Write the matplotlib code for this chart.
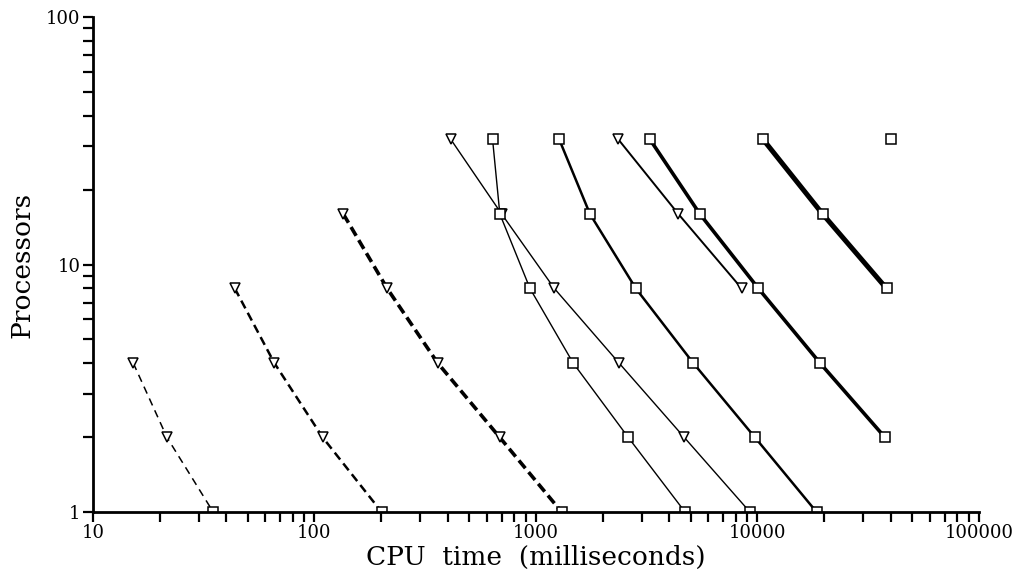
import matplotlib
matplotlib.use("Agg")
import matplotlib.pyplot as plt
from matplotlib.ticker import LogLocator, NullFormatter, FixedFormatter, FixedLocator

# ---- data (CPU time in ms, processors) ----
procs_4 = [4, 2, 1]
procs_8 = [8, 4, 2, 1]
procs_16 = [16, 8, 4, 2, 1]
procs_32 = [32, 16, 8, 4, 2, 1]
procs_32_8 = [32, 16, 8]
procs_32_2 = [32, 16, 8, 4, 2]

t_dash_thin = [15.2, 21.6, 34.9]
t_dash_med = [43.7, 65.9, 109, 201]
t_dash_thick = [135, 213, 360, 687, 1306]
t_tri_thin = [413, 700, 1211, 2371, 4676, 9245]
t_sq_thin = [637, 687, 940, 1472, 2612, 4710]
t_sq_med = [1274, 1753, 2825, 5128, 9750, 18480]
t_tri_med = [2356, 4393, 8490]
t_sq_thick = [3272, 5495, 10100, 19150, 37670]
t_sq_thickest = [10610, 19680, 38260]
t_single = [40090]
procs_single = [32]

xticks = [10, 100, 1000, 10000, 100000]
xticklabels = ["10", "100", "1000", "10000", "100000"]
yticks = [1, 10, 100]
yticklabels = ["1", "10", "100"]

plt.rcParams['font.family'] = ['DejaVu Serif']

fig = plt.figure(figsize=(10.17, 5.85), dpi=100)
ax = fig.add_axes([0.0914, 0.1248, 0.8712, 0.8461])
ax.set_xscale('log')
ax.set_yscale('log')
ax.set_xlim(10, 100000)
ax.set_ylim(1, 100)

ms = 7
mew = 1.1
k = 'black'

def series(t, p, lw, ls, marker):
    # line
    ax.plot(t, p, color=k, lw=lw, linestyle=ls, zorder=2)
    # markers (processor 1 drawn as squares, half hidden by the axis)
    tm = [a for a, b in zip(t, p) if b != 1]
    pm = [b for b in p if b != 1]
    ax.plot(tm, pm, linestyle='none', marker=marker, ms=ms, mfc='white',
            mec=k, mew=mew, zorder=3)
    t1 = [a for a, b in zip(t, p) if b == 1]
    p1 = [b for b in p if b == 1]
    if t1:
        ax.plot(t1, p1, linestyle='none', marker='s', ms=ms, mfc='white',
                mec=k, mew=mew, zorder=3, clip_on=True)

series(t_dash_thin, procs_4, 1.1, (0, (5, 3.5)), 'v')
series(t_dash_med, procs_8, 1.8, (0, (3.5, 2)), 'v')
series(t_dash_thick, procs_16, 2.6, (0, (2.8, 1.4)), 'v')
series(t_tri_thin, procs_32, 1.0, '-', 'v')
series(t_sq_thin, procs_32, 1.0, '-', 's')
series(t_sq_med, procs_32, 1.8, '-', 's')
series(t_tri_med, procs_32_8, 1.4, '-', 'v')
series(t_sq_thick, procs_32_2, 2.6, '-', 's')
series(t_sq_thickest, procs_32_8, 3.6, '-', 's')
ax.plot(t_single, procs_single, linestyle='none', marker='s', ms=ms,
        mfc='white', mec=k, mew=mew, zorder=3)

# axes styling
for s in ['top', 'right']:
    ax.spines[s].set_visible(False)
for s in ['left', 'bottom']:
    ax.spines[s].set_linewidth(2.0)
    ax.spines[s].set_zorder(4)

ax.xaxis.set_major_locator(FixedLocator(xticks))
ax.xaxis.set_major_formatter(FixedFormatter(xticklabels))
ax.yaxis.set_major_locator(FixedLocator(yticks))
ax.yaxis.set_major_formatter(FixedFormatter(yticklabels))
ax.xaxis.set_minor_locator(LogLocator(base=10, subs=range(2, 10)))
ax.yaxis.set_minor_locator(LogLocator(base=10, subs=range(2, 10)))
ax.xaxis.set_minor_formatter(NullFormatter())
ax.yaxis.set_minor_formatter(NullFormatter())
ax.tick_params(which='both', direction='out', width=1.6, length=7, labelsize=13)
ax.tick_params(axis='x', which='both', pad=2)
ax.tick_params(axis='y', which='both', pad=2)

ax.set_xlabel("CPU  time  (milliseconds)", fontsize=19, labelpad=2)
ax.set_ylabel("Processors", fontsize=19, labelpad=8)

fig.savefig("out.png", dpi=100)
